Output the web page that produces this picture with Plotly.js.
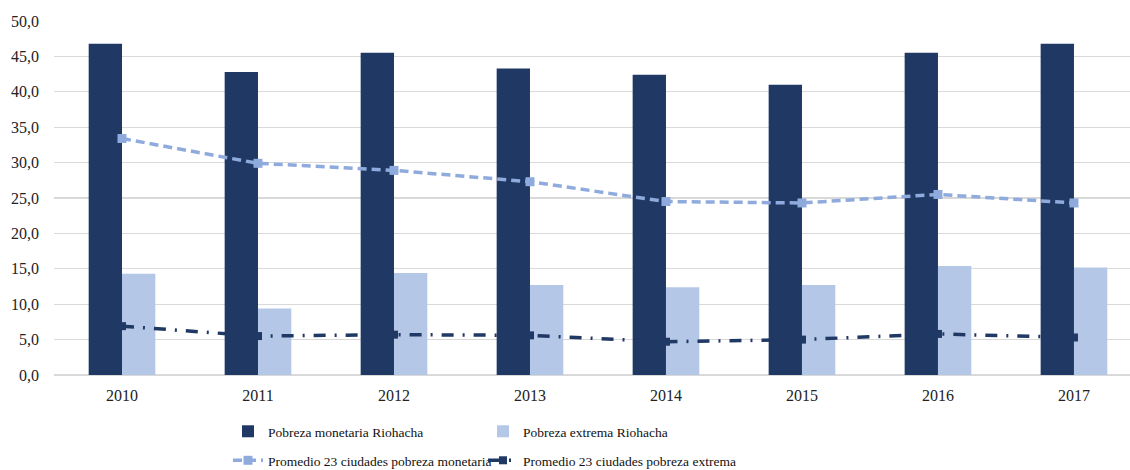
<!DOCTYPE html>
<html>
<head>
<meta charset="utf-8">
<script src="https://cdn.plot.ly/plotly-3.0.1.min.js"></script>
<style>html,body{margin:0;padding:0;background:#fff;}#chart{width:1130px;height:470px;}</style>
</head>
<body>
<div id="chart"></div>
<script>
var years = ['2010','2011','2012','2013','2014','2015','2016','2017'];
var pobrezaMonetariaRiohacha = [46.8, 42.8, 45.5, 43.3, 42.4, 41.0, 45.5, 46.8];
var pobrezaExtremaRiohacha = [14.3, 9.4, 14.4, 12.7, 12.4, 12.7, 15.4, 15.2];
var promedioMonetaria = [33.4, 29.9, 28.9, 27.3, 24.5, 24.3, 25.5, 24.3];
var promedioExtrema = [6.9, 5.5, 5.7, 5.6, 4.7, 5.0, 5.8, 5.3];
var yTicks = [0,5,10,15,20,25,30,35,40,45,50];

var fontFam = 'Liberation Serif, Times New Roman, serif';

var traces = [
  {type:'bar', x: years, y: pobrezaMonetariaRiohacha, name:'Pobreza monetaria Riohacha',
   marker:{color:'#203864'}, legend:'legend'},
  {type:'bar', x: years, y: pobrezaExtremaRiohacha, name:'Pobreza extrema Riohacha',
   marker:{color:'#B4C7E7'}, legend:'legend'},
  {type:'scatter', mode:'lines+markers', x: years, y: promedioMonetaria,
   name:'Promedio 23 ciudades pobreza monetaria',
   line:{color:'#8FAADC', width:3.5, dash:'9px,5px'},
   marker:{symbol:'square', size:9, color:'#8FAADC'}, legend:'legend2'},
  {type:'scatter', mode:'lines+markers', x: years, y: promedioExtrema,
   name:'Promedio 23 ciudades pobreza extrema',
   line:{color:'#203864', width:3.5, dash:'12px,9px,2px,9px'},
   marker:{symbol:'square', size:8, color:'#203864'}, legend:'legend2'}
];

var layout = {
  width:1130, height:470,
  margin:{l:54, r:0, t:21, b:95},
  paper_bgcolor:'#fff', plot_bgcolor:'#fff',
  separators:',.',
  font:{family:fontFam, size:16, color:'#222'},
  barmode:'group', bargap:0.51, bargroupgap:0,
  showlegend:true,
  xaxis:{type:'category', range:[-0.5, 7.412], showgrid:false, zeroline:false,
         showline:false, ticks:'', ticklabelstandoff:9,
         tickfont:{family:fontFam, size:16, color:'#222'}, fixedrange:true},
  yaxis:{range:[0,50], tickvals:yTicks, tickformat:'.1f', showgrid:true,
         gridcolor:'#D9D9D9', gridwidth:1.2, zeroline:true, zerolinecolor:'#D9D9D9',
         zerolinewidth:1.5, showline:false, ticks:'', ticklabelstandoff:14,
         tickfont:{family:fontFam, size:16, color:'#222'}},
  legend:{orientation:'h', xref:'container', yref:'container', x:228/1130, y:1-(416/470),
          xanchor:'left', yanchor:'top', entrywidthmode:'pixels', entrywidth:210,
          font:{family:fontFam, size:13.5, color:'#111'}, bgcolor:'rgba(0,0,0,0)',
          traceorder:'normal'},
  legend2:{orientation:'h', xref:'container', yref:'container', x:228/1130, y:1-(445/470),
          xanchor:'left', yanchor:'top', entrywidthmode:'pixels', entrywidth:210,
          font:{family:fontFam, size:13.5, color:'#111'}, bgcolor:'rgba(0,0,0,0)',
          traceorder:'normal'}
};

Plotly.newPlot('chart', traces, layout, {displayModeBar:false, staticPlot:true});
</script>
</body>
</html>
